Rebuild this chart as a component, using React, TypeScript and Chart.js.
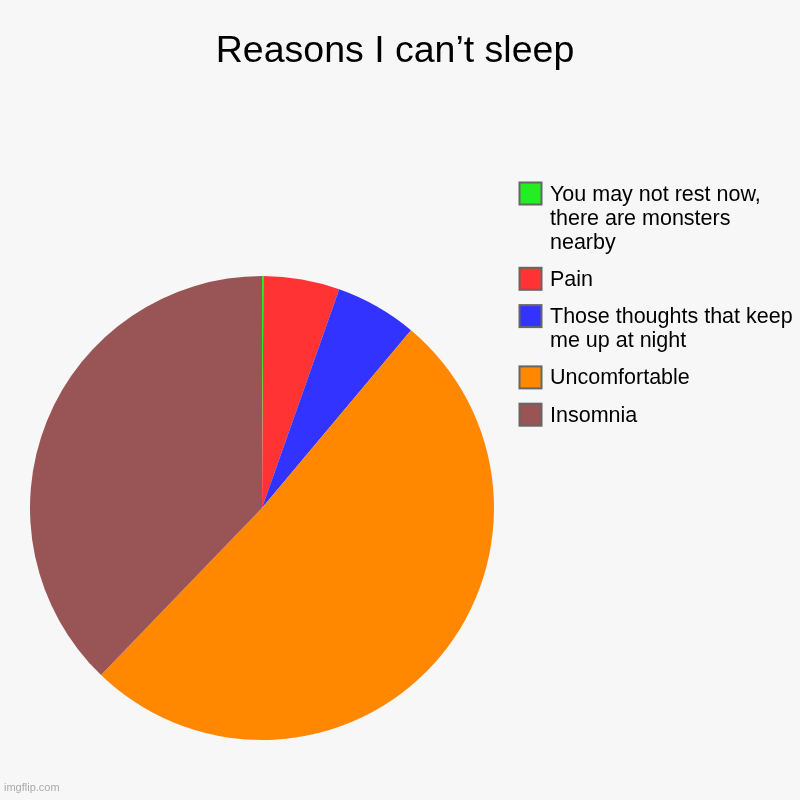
import Chart from "chart.js/auto";
import React, { useRef, useEffect } from "react";

const title = "Reasons I can\u2019t sleep";
const categories: string[][] = [
    ["You may not rest now,", "there are monsters", "nearby"],
    ["Pain"],
    ["Those thoughts that keep", "me up at night"],
    ["Uncomfortable"],
    ["Insomnia"],
];
const values = [0.1, 5.3, 5.7, 51.1, 37.8];
const colors = ["#22ee22", "#ff3333", "#3333ff", "#ff8800", "#995555"];

const FONT = "'Liberation Sans', Arial, sans-serif";

const backdrop = {
    id: "backdrop",
    beforeDraw(chart: Chart) {
        const ctx = chart.ctx;
        ctx.save();
        ctx.fillStyle = "#f7f7f7";
        ctx.fillRect(0, 0, chart.width, chart.height);
        ctx.restore();
    },
    afterDraw(chart: Chart) {
        const ctx = chart.ctx;
        ctx.save();
        // title
        ctx.fillStyle = "#000";
        ctx.font = `37.5px ${FONT}`;
        ctx.textAlign = "center";
        ctx.textBaseline = "alphabetic";
        ctx.fillText(title, 395, 62);

        // legend on the right
        ctx.font = `21.5px ${FONT}`;
        ctx.textAlign = "left";
        let y = 200.5;
        categories.forEach((lines, i) => {
            ctx.fillStyle = colors[i];
            ctx.fillRect(519.5, y - 18, 22, 22);
            ctx.strokeStyle = "#666";
            ctx.lineWidth = 2;
            ctx.strokeRect(519.5, y - 18, 22, 22);
            ctx.fillStyle = "#000";
            lines.forEach((line, j) => ctx.fillText(line, 550, y + j * 24));
            y += (lines.length - 1) * 24 + 37.3;
        });

        // watermark
        ctx.fillStyle = "#aaa";
        ctx.font = `11px ${FONT}`;
        ctx.fillText("imgflip.com", 4, 791);
        ctx.restore();
    }
};

const App: React.FC = (): JSX.Element => {

    const canvasRef = useRef<HTMLCanvasElement>(null);

    useEffect(() => {
        document.body.style.margin = "0";
        if (canvasRef.current) {
            const chart = new Chart(canvasRef.current, {
                type: "pie",
                data: {
                    labels: categories.map(l => l.join(" ")),
                    datasets: [{
                        data: values,
                        backgroundColor: colors,
                        borderWidth: 0,
                    }]
                },
                options: {
                    animation: false,
                    responsive: false,
                    layout: { padding: { left: 30, right: 306, top: 276, bottom: 60 } },
                    plugins: {
                        legend: { display: false },
                        tooltip: { enabled: false },
                    }
                },
                plugins: [backdrop]
            });
            return () => chart.destroy();
        }
    }, []);

    return (
        <div style={{ width: 800, height: 800 }}>
            <canvas ref={canvasRef} width="800" height="800"></canvas>
        </div>
    );
}

export default App;
